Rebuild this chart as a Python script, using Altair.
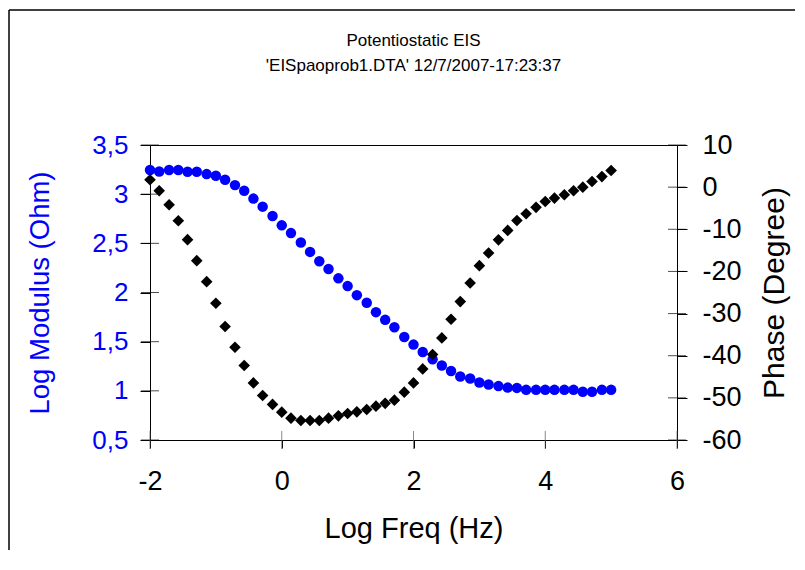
import altair as alt
import pandas as pd

# ---- data ----
log_freq = [-2.00, -1.86, -1.71, -1.57, -1.43, -1.29, -1.14, -1.00, -0.86, -0.71,
            -0.57, -0.43, -0.29, -0.14, 0.00, 0.14, 0.29, 0.43, 0.57, 0.71,
            0.86, 1.00, 1.14, 1.29, 1.43, 1.57, 1.71, 1.86, 2.00, 2.14,
            2.29, 2.43, 2.57, 2.71, 2.86, 3.00, 3.14, 3.29, 3.43, 3.57,
            3.71, 3.86, 4.00, 4.14, 4.29, 4.43, 4.57, 4.71, 4.86, 5.00]

log_modulus = [3.245, 3.231, 3.245, 3.245, 3.228, 3.228, 3.204, 3.187, 3.146, 3.092,
               3.034, 2.955, 2.873, 2.778, 2.683, 2.604, 2.509, 2.413, 2.318, 2.239,
               2.144, 2.065, 1.973, 1.896, 1.800, 1.722, 1.647, 1.548, 1.470, 1.395,
               1.320, 1.258, 1.201, 1.146, 1.125, 1.084, 1.064, 1.048, 1.033, 1.030,
               1.010, 1.010, 1.010, 1.010, 1.010, 1.010, 0.990, 0.990, 1.010, 1.010]

phase = [1.75, -0.85, -4.17, -7.96, -12.46, -17.44, -22.42, -27.56, -33.08, -37.99,
         -42.32, -46.45, -49.43, -51.56, -53.39, -54.81, -55.36, -55.36, -55.36, -54.81,
         -54.27, -53.70, -53.32, -52.75, -51.97, -51.30, -50.55, -48.65, -46.45, -43.13,
         -39.72, -35.78, -31.35, -27.16, -22.75, -18.63, -15.64, -12.50, -10.26, -7.90,
         -6.30, -4.80, -3.40, -2.60, -1.80, -0.85, 0.00, 1.35, 2.50, 3.95]

x_ticks = [-2, 0, 2, 4, 6]
mod_ticks = [0.5, 1, 1.5, 2, 2.5, 3, 3.5]
phase_ticks = [-60, -50, -40, -30, -20, -10, 0, 10]

title_lines = ["Potentiostatic EIS", "'EISpaoprob1.DTA' 12/7/2007-17:23:37"]
x_title = "Log Freq (Hz)"

FONT = "Liberation Sans"
BLUE = "#0000FF"

df = pd.DataFrame({"log_freq": log_freq, "log_modulus": log_modulus, "phase": phase})
df_modt = pd.DataFrame({"v": mod_ticks})
df_pht = pd.DataFrame({"v": phase_ticks})
df_xt = pd.DataFrame({"log_freq": x_ticks})
df_one = pd.DataFrame({"a": [0]})

x_scale = alt.Scale(domain=[-2, 6], nice=False, zero=False)
mod_scale = alt.Scale(domain=[0.5, 3.5], nice=False, zero=False)
ph_scale = alt.Scale(domain=[-60, 10], nice=False, zero=False)

x_axis = alt.Axis(values=x_ticks, title=x_title, grid=False,
                  labelExpr="toString(datum.value)",
                  labelFontSize=27, titleFontSize=29, labelColor="black", titleColor="black",
                  tickSize=8, labelPadding=20, titlePadding=20,
                  domainColor="black", tickColor="black", labelFont=FONT, titleFont=FONT,
                  titleFontWeight="normal", labelFlush=False)

blue = alt.Chart(df).mark_point(shape="circle", filled=True, size=110, color=BLUE, opacity=1).encode(
    x=alt.X("log_freq:Q", scale=x_scale, axis=x_axis, title=x_title),
    y=alt.Y("log_modulus:Q", scale=mod_scale,
            axis=alt.Axis(orient="left", values=mod_ticks, title="Log Modulus  (Ohm)", grid=False,
                          labelExpr="replace(toString(datum.value), '.', ',')",
                          labelFontSize=26, titleFontSize=27.5, labelColor=BLUE, titleColor=BLUE,
                          tickSize=10, labelPadding=12, titlePadding=37,
                          domainColor="black", tickColor="black", labelFont=FONT, titleFont=FONT,
                          titleFontWeight="normal", labelFlush=False)),
)

black = alt.Chart(df).mark_point(shape="diamond", filled=True, size=135, color="black", opacity=1).encode(
    x=alt.X("log_freq:Q", scale=x_scale, title=x_title),
    y=alt.Y("phase:Q", scale=ph_scale,
            axis=alt.Axis(orient="right", values=phase_ticks, title="Phase (Degree)", grid=False,
                          labelExpr="toString(datum.value)",
                          labelFontSize=27, titleFontSize=30, labelColor="black", titleColor="black",
                          tickSize=10, labelPadding=15, titlePadding=48, titleAngle=270,
                          domainColor="black", tickColor="black", labelFont=FONT, titleFont=FONT,
                          titleFontWeight="normal", labelFlush=False)),
)

left_ticks = alt.Chart(df_modt).mark_tick(orient="horizontal", size=18, thickness=1, color="black").encode(
    x=alt.XDatum(-2, type="quantitative", scale=x_scale, title=x_title),
    y=alt.Y("v:Q", scale=mod_scale, axis=None),
)
right_ticks = alt.Chart(df_pht).mark_tick(orient="horizontal", size=18, thickness=1, color="black").encode(
    x=alt.XDatum(6, type="quantitative", scale=x_scale, title=x_title),
    y=alt.Y("v:Q", scale=ph_scale, axis=None),
)
bottom_ticks = alt.Chart(df_xt).mark_tick(orient="vertical", size=18, thickness=1, color="#555555").encode(
    x=alt.X("log_freq:Q", scale=x_scale, title=x_title),
    y=alt.YDatum(0.5, type="quantitative", scale=mod_scale, axis=None),
)

frame_top = alt.Chart(df_one).mark_rule(stroke="black", strokeWidth=1.5).encode(
    x=alt.value(-141), x2=alt.value(655), y=alt.value(-135),
)
frame_left = alt.Chart(df_one).mark_rule(stroke="black", strokeWidth=1.5).encode(
    x=alt.value(-141), y=alt.value(-135), y2=alt.value(405),
)

chart = alt.layer(frame_top, frame_left, blue, black, left_ticks, right_ticks, bottom_ticks).resolve_scale(
    y="independent"
).properties(
    width=527, height=295,
    autosize=alt.AutoSizeParams(type="none"),
    padding={"left": 142, "top": 137, "right": 118, "bottom": 110},
    title=alt.TitleParams(text=title_lines, anchor="middle", fontSize=17, font=FONT,
                          fontWeight="normal", color="black", lineHeight=25, offset=-66),
).configure_view(stroke="black", strokeWidth=1)

chart.save("out.html", embed_options={"renderer": "svg", "actions": False})
